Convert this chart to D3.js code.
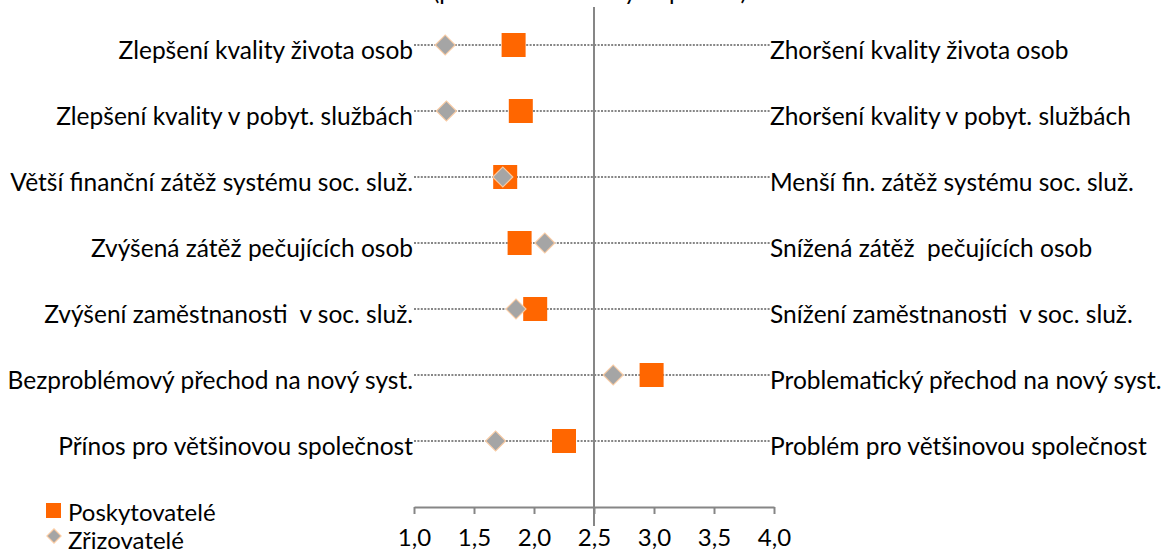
<!DOCTYPE html>
<html>
<head>
<meta charset="utf-8">
<script src="https://cdn.jsdelivr.net/npm/d3@7"></script>
<style>
  body { margin: 0; background: #fff; }
  text { font-family: Lato, "Noto Sans", sans-serif; fill: #000; }
</style>
</head>
<body>
<div id="chart"></div>
<script>
// Categories (left = positive pole, right = negative pole)
const leftLabels = [
    "Zlepšení kvality života osob",
    "Zlepšení kvality v pobyt. službách",
    "Větší finanční zátěž systému soc. služ.",
    "Zvýšená zátěž pečujících osob",
    "Zvýšení zaměstnanosti  v soc. služ.",
    "Bezproblémový přechod na nový syst.",
    "Přínos pro většinovou společnost"
];
const rightLabels = [
    "Zhoršení kvality života osob",
    "Zhoršení kvality v pobyt. službách",
    "Menší fin. zátěž systému soc. služ.",
    "Snížená zátěž  pečujících osob",
    "Snížení zaměstnanosti  v soc. služ.",
    "Problematický přechod na nový syst.",
    "Problém pro většinovou společnost"
];

// Mean answers
const poskytovatele = [1.83, 1.89, 1.76, 1.88, 2.01, 2.98, 2.25];
const zrizovatele = [1.26, 1.27, 1.74, 2.09, 1.85, 2.66, 1.68];

const tickValues = [1.0, 1.5, 2.0, 2.5, 3.0, 3.5, 4.0];
const seriesNames = ["Poskytovatelé", "Zřizovatelé"];

const width = 1164, height = 554;
const fontSize = 24.5;

const svg = d3.select("#chart")
    .append("svg")
    .attr("width", width)
    .attr("height", height);

// Scales
const x = d3.scaleLinear()
    .domain([1, 4])
    .range([414, 774]);

const y = d3.scalePoint()
    .domain(d3.range(leftLabels.length))
    .range([45, 441]);

// Title (cut off at the top edge, as in the original)
svg.append("text")
    .attr("x", 590)
    .attr("y", 0)
    .attr("text-anchor", "middle")
    .style("font-size", "24px")
    .text("(průměrné hodnoty odpovědí)");

// Dotted row lines
svg.selectAll(".row-line")
    .data(leftLabels)
    .enter().append("line")
    .attr("class", "row-line")
    .attr("x1", 414)
    .attr("x2", 770)
    .attr("y1", (d, i) => y(i))
    .attr("y2", (d, i) => y(i))
    .attr("stroke", "#868686")
    .attr("stroke-width", 2)
    .attr("stroke-dasharray", "2,1.4");

// Left and right labels
svg.selectAll(".left-label")
    .data(leftLabels)
    .enter().append("text")
    .attr("class", "left-label")
    .attr("x", 413)
    .attr("y", (d, i) => y(i) + 14)
    .attr("text-anchor", "end")
    .style("font-size", fontSize + "px")
    .style("white-space", "pre")
    .text(d => d);

svg.selectAll(".right-label")
    .data(rightLabels)
    .enter().append("text")
    .attr("class", "right-label")
    .attr("x", 770)
    .attr("y", (d, i) => y(i) + 14)
    .style("font-size", fontSize + "px")
    .style("white-space", "pre")
    .text(d => d);

// Vertical line at the midpoint
svg.append("line")
    .attr("x1", x(2.5))
    .attr("x2", x(2.5))
    .attr("y1", 7)
    .attr("y2", 526)
    .attr("stroke", "#868686")
    .attr("stroke-width", 2);

// X axis
const fmt = d3.formatLocale({decimal: ",", thousands: " ", grouping: [3], currency: ["", ""]}).format(".1f");

const axis = svg.append("g")
    .attr("transform", "translate(0,507)")
    .call(d3.axisBottom(x).tickValues(tickValues).tickFormat(fmt).tickSizeInner(7).tickSizeOuter(0).tickPadding(15));

axis.select(".domain").attr("stroke", "#868686").attr("stroke-width", 2);
axis.selectAll(".tick line").attr("stroke", "#868686").attr("stroke-width", 2);
axis.selectAll(".tick text")
    .style("font-size", "24px")
    .style("font-family", "Lato, sans-serif")
    .attr("fill", "#000");

// Markers
const sq = 24;
svg.selectAll(".posk")
    .data(poskytovatele)
    .enter().append("rect")
    .attr("class", "posk")
    .attr("x", d => x(d) - sq / 2)
    .attr("y", (d, i) => y(i) - sq / 2)
    .attr("width", sq)
    .attr("height", sq)
    .attr("fill", "#FF6600");

const diamond = d3.symbol().type(d3.symbolSquare).size(200);
svg.selectAll(".zriz")
    .data(zrizovatele)
    .enter().append("path")
    .attr("class", "zriz")
    .attr("d", diamond)
    .attr("transform", (d, i) => "translate(" + x(d) + "," + y(i) + ") rotate(45)")
    .attr("fill", "#A5A5A5")
    .attr("stroke", "#F9CBA3")
    .attr("stroke-width", 1.2);

// Legend
const legend = svg.append("g");

legend.append("rect")
    .attr("x", 46)
    .attr("y", 503)
    .attr("width", 15)
    .attr("height", 15)
    .attr("fill", "#FF6600");

legend.append("path")
    .attr("d", d3.symbol().type(d3.symbolSquare).size(100))
    .attr("transform", "translate(54,536) rotate(45)")
    .attr("fill", "#A5A5A5")
    .attr("stroke", "#F9CBA3")
    .attr("stroke-width", 1.2);

legend.selectAll(".legend-label")
    .data(seriesNames)
    .enter().append("text")
    .attr("class", "legend-label")
    .attr("x", 68)
    .attr("y", (d, i) => 521 + i * 28)
    .style("font-size", "24px")
    .text(d => d);
</script>
</body>
</html>
